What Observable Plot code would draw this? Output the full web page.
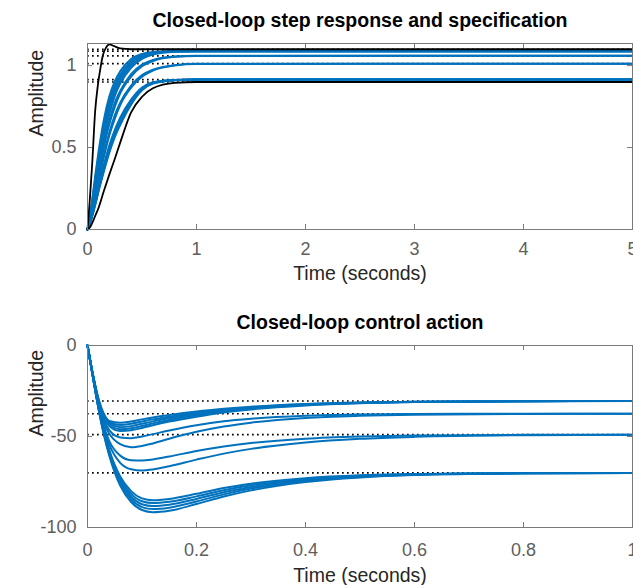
<!DOCTYPE html>
<html>
<head>
<meta charset="utf-8">
<script src="https://cdn.jsdelivr.net/npm/d3@7"></script>
<script src="https://cdn.jsdelivr.net/npm/@observablehq/plot@0.6"></script>
<style>
  html, body { margin: 0; padding: 0; background: #fff; }
  #chart { position: relative; width: 633px; height: 585px; }
  #chart svg { position: absolute; left: 0; }
</style>
</head>
<body>
<div id="chart"></div>
<script>
// ---- Step response (top panel) ----
const stepTitle = "Closed-loop step response and specification";
const stepTime = [0, 0.025, 0.05, 0.075, 0.1, 0.15, 0.2, 0.25, 0.3, 0.4, 0.5, 0.6, 0.8, 1.0, 5];
const stepGroupA = [
  [0, 0.090, 0.218, 0.348, 0.468, 0.669, 0.811, 0.903, 0.965, 1.040, 1.071, 1.083, 1.088, 1.088, 1.088],
  [0, 0.085, 0.203, 0.326, 0.442, 0.639, 0.781, 0.879, 0.944, 1.027, 1.064, 1.079, 1.088, 1.088, 1.088],
  [0, 0.081, 0.188, 0.311, 0.418, 0.609, 0.754, 0.856, 0.927, 1.016, 1.056, 1.076, 1.088, 1.088, 1.088],
  [0, 0.076, 0.177, 0.289, 0.397, 0.584, 0.737, 0.834, 0.908, 1.002, 1.049, 1.072, 1.086, 1.088, 1.088],
  [0, 0.072, 0.166, 0.276, 0.375, 0.560, 0.704, 0.814, 0.890, 0.987, 1.041, 1.067, 1.085, 1.088, 1.088]
];
const stepGroupB = [
  [0, 0.067, 0.154, 0.251, 0.348, 0.525, 0.664, 0.773, 0.845, 0.948, 1.006, 1.035, 1.056, 1.060, 1.060],
  [0, 0.064, 0.145, 0.239, 0.332, 0.500, 0.642, 0.748, 0.831, 0.933, 0.996, 1.028, 1.054, 1.059, 1.060]
];
const stepGroupC = [
  [0, 0.059, 0.133, 0.216, 0.301, 0.457, 0.591, 0.696, 0.774, 0.878, 0.942, 0.975, 1.003, 1.011, 1.012],
  [0, 0.056, 0.127, 0.205, 0.288, 0.441, 0.574, 0.675, 0.759, 0.865, 0.932, 0.970, 1.001, 1.010, 1.012]
];
const stepGroupD = [
  [0, 0.049, 0.112, 0.183, 0.258, 0.393, 0.512, 0.606, 0.682, 0.792, 0.866, 0.898, 0.913, 0.915, 0.915],
  [0, 0.048, 0.107, 0.178, 0.249, 0.383, 0.499, 0.596, 0.671, 0.785, 0.862, 0.896, 0.912, 0.915, 0.915],
  [0, 0.046, 0.103, 0.172, 0.241, 0.373, 0.488, 0.584, 0.660, 0.778, 0.858, 0.894, 0.912, 0.915, 0.915],
  [0, 0.045, 0.101, 0.167, 0.235, 0.364, 0.479, 0.574, 0.649, 0.770, 0.853, 0.892, 0.911, 0.915, 0.915],
  [0, 0.044, 0.098, 0.160, 0.230, 0.354, 0.468, 0.564, 0.638, 0.762, 0.849, 0.890, 0.911, 0.915, 0.915]
];
// specification envelope (upper and lower reference responses)
const specUpperTime = [0, 0.02, 0.043, 0.07, 0.095, 0.12, 0.14, 0.17, 0.2, 0.24, 0.3, 0.4, 5];
const specUpper = [0, 0.17, 0.40, 0.72, 0.88, 0.99, 1.06, 1.11, 1.13, 1.12, 1.105, 1.10, 1.10];
const specLower = [0, 0.015, 0.05, 0.09, 0.13, 0.235, 0.335, 0.43, 0.53, 0.715, 0.81, 0.862, 0.895, 0.90, 0.90];
const stepFinal = [1.10, 1.088, 1.06, 1.012, 0.915, 0.90];
const stepXTicks = [0, 1, 2, 3, 4, 5];
const stepYTicks = [0, 0.5, 1];

// ---- Control action (bottom panel) ----
const controlTitle = "Closed-loop control action";
const controlTime = [0, 0.01, 0.02, 0.03, 0.04, 0.06, 0.08, 0.1, 0.12, 0.15, 0.2, 0.25, 0.3, 0.4, 0.5, 0.6, 0.8, 1.0];
const controlGroupA = [
  [0, -16.0, -29.0, -37.5, -41.5, -42.5, -41.8, -40.6, -39.5, -38.2, -36.3, -34.8, -33.6, -32.1, -31.3, -30.9, -30.6, -30.5],
  [0, -16.0, -29.5, -38.2, -42.3, -43.7, -43.0, -41.8, -40.6, -39.1, -37.0, -35.3, -34.0, -32.3, -31.4, -30.9, -30.6, -30.5],
  [0, -16.2, -30.0, -38.8, -43.0, -44.9, -44.3, -43.0, -41.7, -40.0, -37.7, -35.8, -34.3, -32.5, -31.5, -31.0, -30.6, -30.5],
  [0, -16.2, -30.3, -39.3, -43.7, -46.0, -45.5, -44.2, -42.8, -40.9, -38.4, -36.3, -34.7, -32.7, -31.6, -31.0, -30.6, -30.5],
  [0, -16.3, -30.6, -39.8, -44.3, -47.0, -46.6, -45.3, -43.8, -41.8, -39.1, -36.8, -35.1, -32.9, -31.7, -31.1, -30.7, -30.5]
];
const controlGroupB = [
  [0, -16.5, -31.0, -41.0, -46.5, -50.5, -50.9, -50.0, -48.7, -46.7, -43.8, -41.6, -40.2, -38.6, -37.9, -37.6, -37.5, -37.5],
  [0, -16.7, -31.8, -42.5, -48.5, -54.2, -55.9, -55.2, -53.8, -51.2, -47.4, -44.5, -42.4, -39.8, -38.6, -38.0, -37.6, -37.5]
];
const controlGroupC = [
  [0, -17.0, -32.5, -44.5, -52.5, -60.5, -63.0, -63.2, -62.6, -61.0, -58.0, -55.5, -53.6, -51.2, -50.0, -49.4, -49.1, -49.0],
  [0, -17.2, -33.0, -45.5, -54.5, -64.5, -68.0, -68.7, -68.1, -66.3, -62.7, -59.4, -56.8, -53.3, -51.3, -50.2, -49.3, -49.1]
];
const controlGroupD = [
  [0, -17.3, -33.5, -47.0, -57.5, -72.0, -80.0, -84.0, -85.0, -84.3, -81.5, -78.3, -75.9, -72.9, -71.3, -70.6, -70.1, -70.0],
  [0, -17.3, -33.7, -47.5, -58.3, -73.3, -81.5, -85.6, -86.6, -85.9, -82.9, -79.5, -76.8, -73.4, -71.6, -70.7, -70.1, -70.0],
  [0, -17.4, -34.0, -48.0, -59.0, -74.6, -83.0, -87.2, -88.2, -87.5, -84.3, -80.6, -77.7, -73.9, -71.9, -70.9, -70.2, -70.0],
  [0, -17.5, -34.2, -48.4, -59.7, -75.8, -84.5, -88.8, -89.9, -89.1, -85.7, -81.8, -78.6, -74.4, -72.2, -71.0, -70.2, -70.0],
  [0, -17.5, -34.5, -49.0, -60.5, -77.0, -86.0, -90.4, -91.6, -90.8, -87.1, -83.0, -79.6, -75.0, -72.5, -71.2, -70.3, -70.1]
];
const controlFinal = [-30.5, -37.5, -49, -70];
const controlXTicks = [0, 0.2, 0.4, 0.6, 0.8, 1];
const controlYTicks = [-100, -50, 0];

// ---- helpers ----
const FONT = "'Liberation Sans', Arial, Helvetica, sans-serif";
const BLUE = "#0072BD";
const AXIS = "#7a7a7a";
const TICKTEXT = "#5e5e5e";
const LABEL = "#262626";

function toRows(time, groups, prefix) {
  const rows = [];
  groups.forEach((series, k) => {
    series.forEach((v, i) => rows.push({series: prefix + k, t: time[i], v}));
  });
  return rows;
}

function panel({title, xDomain, yDomain, xTicks, yTicks, lines, specs, finals, height, top, marginTop, marginBottom, titleDy, xLabelDy, tickPadX}) {
  const frameH = height - marginTop - marginBottom;
  const frameW = 633 - 87 - 1;
  const svg = Plot.plot({
    width: 633,
    height,
    marginTop,
    marginBottom,
    marginLeft: 87,
    marginRight: 1,
    style: {fontFamily: FONT, background: "white", overflow: "visible"},
    x: {domain: xDomain},
    y: {domain: yDomain},
    marks: [
      // steady-state levels
      Plot.ruleY(finals, {y: d => d, stroke: "black", strokeWidth: 1.7, strokeDasharray: "1.7,3.3"}),
      Plot.line(lines, {x: "t", y: "v", z: "series", stroke: BLUE, strokeWidth: 2, curve: "monotone-x"}),
      ...specs.map(rows => Plot.line(rows, {x: "t", y: "v", stroke: "black", strokeWidth: 1.8, curve: "monotone-x"})),
      Plot.frame({stroke: AXIS, strokeWidth: 1}),
      // inward ticks on all four sides
      Plot.tickX(xTicks, {x: d => d, insetTop: frameH - 5, stroke: AXIS}),
      Plot.tickX(xTicks, {x: d => d, insetBottom: frameH - 5, stroke: AXIS}),
      Plot.tickY(yTicks, {y: d => d, insetRight: frameW - 5, stroke: AXIS}),
      Plot.tickY(yTicks, {y: d => d, insetLeft: frameW - 5, stroke: AXIS}),
      Plot.axisX({ticks: xTicks, tickSize: 0, tickPadding: tickPadX, tickFormat: d => String(d), fontSize: 18, fill: TICKTEXT, label: null}),
      Plot.axisY({ticks: yTicks, tickSize: 0, tickPadding: 11, tickFormat: d => String(d), fontSize: 18, fill: TICKTEXT, label: null}),
      Plot.text(["Time (seconds)"], {frameAnchor: "bottom", dy: xLabelDy, fontSize: 19.5, fill: LABEL, lineAnchor: "middle"}),
      Plot.text(["Amplitude"], {frameAnchor: "left", dx: -51, rotate: -90, fontSize: 19.5, fill: LABEL, lineAnchor: "middle"}),
      Plot.text([title], {frameAnchor: "top", dy: titleDy, fontSize: 19.5, fontWeight: "bold", fill: "black", lineAnchor: "middle"})
    ]
  });
  svg.style.top = top + "px";
  document.getElementById("chart").appendChild(svg);
}

const stepLines = [
  ...toRows(stepTime, stepGroupA, "a"),
  ...toRows(stepTime, stepGroupB, "b"),
  ...toRows(stepTime, stepGroupC, "c"),
  ...toRows(stepTime, stepGroupD, "d")
];
const upperRows = specUpper.map((v, i) => ({t: specUpperTime[i], v}));
const lowerRows = specLower.map((v, i) => ({t: stepTime[i], v}));

panel({
  title: stepTitle,
  xDomain: [0, 5], yDomain: [0, 1.135],
  xTicks: stepXTicks, yTicks: stepYTicks,
  lines: stepLines, specs: [upperRows, lowerRows], finals: stepFinal,
  height: 290, top: 0, marginTop: 43, marginBottom: 61,
  titleDy: -23, xLabelDy: 44, tickPadX: 13
});

const controlLines = [
  ...toRows(controlTime, controlGroupA, "a"),
  ...toRows(controlTime, controlGroupB, "b"),
  ...toRows(controlTime, controlGroupC, "c"),
  ...toRows(controlTime, controlGroupD, "d")
];

panel({
  title: controlTitle,
  xDomain: [0, 1], yDomain: [-100, 0],
  xTicks: controlXTicks, yTicks: controlYTicks,
  lines: controlLines, specs: [], finals: controlFinal,
  height: 295, top: 290, marginTop: 55, marginBottom: 58,
  titleDy: -23, xLabelDy: 48, tickPadX: 16
});
</script>
</body>
</html>
